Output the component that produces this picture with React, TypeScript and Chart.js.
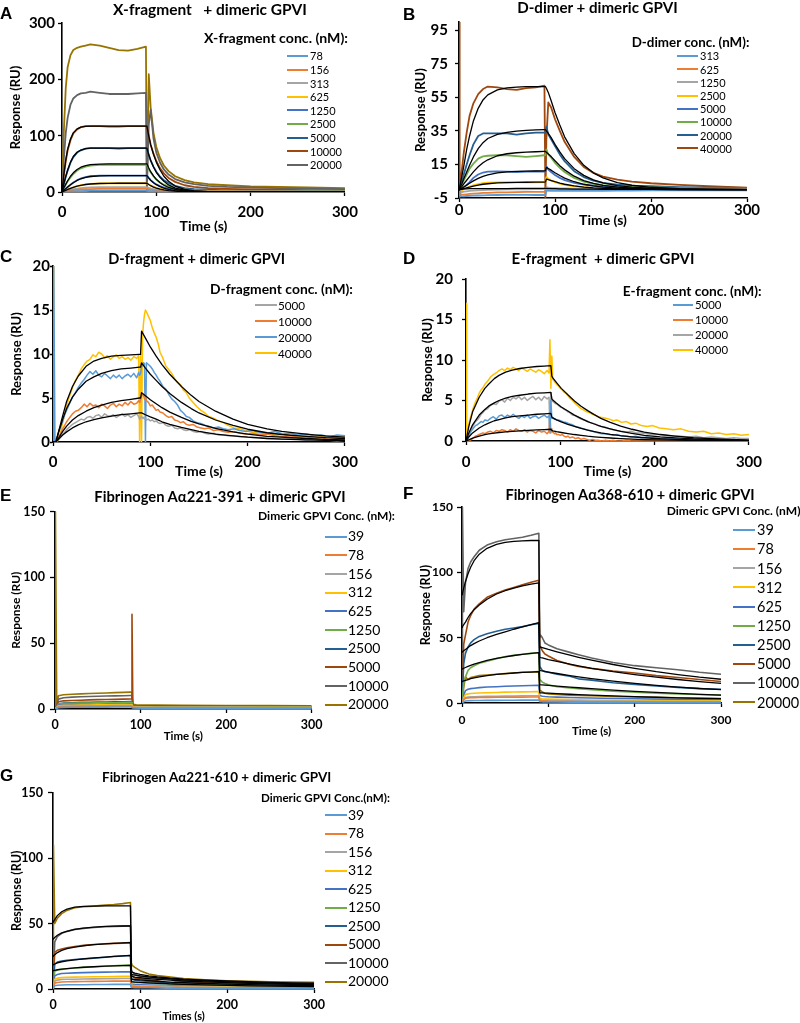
import React, { useEffect, useRef } from 'react';
import { Chart, registerables } from 'chart.js';

Chart.register(...registerables);

const FONT = 'Lato';
const LETTER_FONT = '"Liberation Sans", Arial, sans-serif';

// Excel palette
const LBLUE = '#5B9BD5';
const ORANGE = '#ED7D31';
const GRAY = '#A5A5A5';
const GOLD = '#FFC000';
const BLUE = '#4472C4';
const GREEN = '#70AD47';
const DBLUE = '#255E91';
const BROWN = '#9E480E';
const DGRAY = '#636363';
const OLIVE = '#997300';
const FITC = '#000000';

const xTicks = [0, 100, 200, 300];
const yTicksA = [0, 100, 200, 300];
const yTicksB = [-5, 15, 35, 55, 75, 95];
const yTicksCD = [0, 5, 10, 15, 20];
const yTicksEFG = [0, 50, 100, 150];

// ---------------- Panel A : X-fragment ----------------
const timeA = [0, 2, 4, 6, 9, 12, 16, 20, 25, 30, 40, 50, 60, 70, 80, 89, 90, 92, 94, 97, 100, 104, 108, 113, 120, 130, 140, 155, 175, 200, 230, 260, 300];
const a40000 = [0, 110, 185, 222, 243, 252, 256, 258, 260, 262, 260, 256, 252, 251, 254, 258, 2, 209, 150, 105, 80, 60, 47, 37, 28, 21, 17, 14, 12, 10, 9, 8, 7];
const a20000 = [0, 60, 105, 132, 155, 166, 172, 175, 176, 178, 176, 174, 174, 174, 175, 176, 3, 120, 146, 95, 70, 52, 40, 31, 23, 17, 14, 11, 9, 8, 7, 6, 5];
const a10000 = [0, 30, 55, 74, 92, 104, 111, 115, 117, 117, 117, 116, 116, 117, 117, 117, 117, 100, 84, 68, 55, 42, 33, 25, 18, 12, 9, 7, 5.5, 4.5, 4, 3.5, 3];
const a5000 = [0, 14, 27, 38, 52, 62, 70, 74, 77, 78, 78, 78, 77, 78, 78, 78, 78, 66, 56, 45, 36, 27, 21, 16, 11, 7, 5, 4, 3, 2.5, 2, 2, 1.5];
const a2500 = [0, 7, 13, 19, 26, 32, 38, 42, 45, 47, 48, 48.5, 48, 48, 48, 48, 48, 41, 35, 28, 22, 17, 13, 10, 7, 4.5, 3.5, 2.5, 2, 1.5, 1.2, 1, 1];
const a1250 = [0, 3, 6, 9, 13, 17, 21, 24, 26.5, 28, 29, 29, 29, 29, 29, 29, 29, 25, 21, 17, 13.5, 10.5, 8, 6, 4.2, 3, 2.2, 1.7, 1.3, 1, 0.8, 0.7, 0.6];
const a625 = [0, 1.5, 3, 4.5, 6.5, 8.5, 10.5, 12, 13.5, 14.5, 15.3, 15.5, 15.5, 15.5, 15.5, 15.5, 15.5, 13.5, 11.5, 9.5, 7.5, 6, 4.8, 3.8, 2.8, 2, 1.6, 1.2, 1, 0.8, 0.7, 0.6, 0.5];
const a313 = [0, 1, 2, 3, 4, 5, 6, 7, 7.7, 8.1, 8.4, 8.5, 8.5, 8.5, 8.5, 8.5, 8.5, 7.5, 6.5, 5.3, 4.3, 3.5, 2.8, 2.2, 1.7, 1.3, 1, 0.8, 0.7, 0.6, 0.5, 0.5, 0.4];
const a156 = [0, 0.7, 1.3, 1.9, 2.6, 3.2, 3.9, 4.4, 4.9, 5.2, 5.4, 5.5, 5.5, 5.5, 5.5, 5.5, 5.5, 4.8, 4.2, 3.5, 2.9, 2.3, 1.9, 1.5, 1.2, 0.9, 0.7, 0.6, 0.5, 0.4, 0.4, 0.3, 0.3];
const a78 = [0, 0.3, 0.5, 0.7, 1, 1.2, 1.4, 1.6, 1.8, 1.9, 2, 2, 2, 2, 2, 2, 2, 1.8, 1.6, 1.3, 1.1, 0.9, 0.7, 0.6, 0.5, 0.4, 0.3, 0.3, 0.2, 0.2, 0.2, 0.1, 0.1];
const fitA10000 = [0, 32, 57, 76, 94, 105, 112, 115, 116.5, 117, 117, 117, 117, 117, 117, 117, 117, 99, 84, 67, 53, 39, 28, 19, 10.5, 4.7, 2.3, 0.8, 0.2, 0, 0, 0, 0];
const fitA5000 = [0, 15, 28, 39, 53, 63, 70.5, 74.5, 77, 78, 78, 78, 78, 78, 78, 78, 78, 66, 56, 44.5, 35, 26, 19, 12.5, 7, 3.1, 1.6, 0.5, 0.2, 0, 0, 0, 0];
const fitA2500 = [0, 7.5, 14, 20, 28, 34, 40, 44, 47, 48.5, 49.5, 50, 50, 50, 50, 50, 50, 42.5, 36, 28.5, 22.5, 16.5, 12, 8, 4.5, 2, 1, 0.35, 0.1, 0, 0, 0, 0];
const fitA1250 = [0, 3, 6, 9, 13, 16.5, 20.5, 23.5, 26, 27.5, 28.6, 29, 29, 29, 29, 29, 29, 24.7, 20.9, 16.5, 13, 9.6, 7, 4.6, 2.6, 1.2, 0.6, 0.2, 0.1, 0, 0, 0, 0];
const fitA625 = [0, 1.5, 3, 4.5, 6.5, 8.3, 10.3, 11.9, 13.3, 14.2, 15.1, 15.4, 15.5, 15.5, 15.5, 15.5, 15.5, 13.2, 11.2, 8.8, 7, 5.1, 3.7, 2.5, 1.4, 0.6, 0.3, 0.1, 0, 0, 0, 0, 0];

// ---------------- Panel B : D-dimer ----------------
const timeB = [0, 0.3, 1, 3, 5, 8, 11, 15, 20, 25, 30, 40, 50, 60, 70, 80, 89, 90, 91, 93, 96, 100, 105, 110, 120, 130, 140, 150, 165, 180, 200, 230, 260, 300];
const b40000 = [-5, 100, 1, 12, 22, 34, 44, 51.5, 57, 60, 61.5, 61, 60, 59.5, 60.5, 61, 62, -5, 30, 52, 49, 42, 35, 28.5, 19.5, 13.5, 10, 7.8, 6, 4.8, 3.8, 2.8, 2, 1.2];
const b20000 = [0, 0, 0.5, 5, 9, 15, 20.5, 27, 32, 33.5, 33.5, 33.5, 33.5, 32.8, 33.5, 34, 34, 34, 37.5, 33, 30, 26, 21, 17, 11, 7.5, 5.3, 4, 3, 2.4, 2, 1.5, 1.2, 1];
const b10000 = [0, 0, 0.3, 3, 5.5, 9, 12.5, 15.5, 18.5, 19.8, 20.2, 20.5, 20.5, 20, 19.5, 20, 20.5, 20.5, 24, 21, 19, 16, 13, 10.5, 7, 4.8, 3.5, 2.7, 2, 1.6, 1.3, 1, 0.8, 0.6];
const b5000 = [0, 0, 0, 0.5, 1.5, 2.8, 4.5, 7, 9, 10.2, 10.7, 10.8, 10.7, 10.5, 10.7, 10.8, 10.7, 10.7, 14, 12, 10.5, 8.7, 7, 5.7, 4, 3, 2.3, 1.8, 1.4, 1.1, 0.9, 0.7, 0.5, 0.4];
const b2500 = [0, 0, -0.5, -0.3, 0.2, 1, 1.8, 2.6, 3.3, 3.8, 4.1, 4.3, 4.4, 4.3, 4.3, 4.4, 4.5, 4.5, 7.5, 6.5, 5.5, 4.5, 3.6, 2.9, 2, 1.5, 1.1, 0.9, 0.7, 0.5, 0.4, 0.3, 0.2, 0.2];
const b1250 = [0, 0, -1, -1.5, -1.2, -1, -0.8, -0.6, -0.4, -0.3, -0.2, 0, 0.1, 0.2, 0.2, 0.3, 0.3, 0.3, 1.5, 1.2, 1, 0.9, 0.8, 0.7, 0.6, 0.5, 0.4, 0.3, 0.3, 0.2, 0.2, 0.1, 0.1, 0.1];
const b625 = [0, 0, -2.5, -3, -3, -2.8, -2.6, -2.4, -2.2, -2, -1.9, -1.7, -1.6, -1.5, -1.4, -1.3, -1.3, -1.3, -0.5, -0.4, -0.3, -0.3, -0.2, -0.2, -0.2, -0.1, -0.1, -0.1, 0, 0, 0, 0, 0, 0];
const b313 = [0, 0, -3.5, -4, -4, -3.8, -3.7, -3.6, -3.5, -3.4, -3.3, -3.2, -3.1, -3.1, -3.1, -3.2, -3.2, -3.2, -0.5, -0.6, -0.7, -0.8, -0.8, -0.8, -0.8, -0.8, -0.7, -0.7, -0.6, -0.6, -0.5, -0.5, -0.4, -0.4];
const fitB40000 = [0, 0, 1.5, 8, 14, 24, 32, 41, 48.5, 53.5, 56.5, 59.5, 60.7, 61.2, 61.4, 61.5, 61.5, 61.5, 60.5, 58, 53, 46, 38.5, 31.5, 21.5, 14.5, 10, 7, 4.2, 2.6, 1.4, 0.6, 0.3, 0.1];
const fitB20000 = [0, 0, 0.7, 3.5, 6.5, 10.5, 14.5, 19.5, 24.5, 28, 30.5, 33, 34.2, 34.9, 35.3, 35.6, 35.8, 35.8, 35, 33.5, 31, 27, 22.5, 18.5, 12.5, 8.5, 5.8, 4, 2.4, 1.5, 0.8, 0.35, 0.15, 0.05];
const fitB10000 = [0, 0, 0.3, 1.8, 3.4, 5.6, 7.8, 10.6, 13.6, 16, 17.8, 20.2, 21.4, 22, 22.4, 22.6, 22.8, 22.8, 22.3, 21.3, 19.7, 17.2, 14.3, 11.8, 8, 5.4, 3.7, 2.5, 1.5, 0.95, 0.5, 0.2, 0.1, 0];
const fitB5000 = [0, 0, 0.1, 0.8, 1.6, 2.7, 3.8, 5.2, 6.7, 7.9, 8.8, 10, 10.6, 10.9, 11, 11.1, 11.2, 11.2, 13.3, 12.6, 11.6, 10.1, 8.4, 6.9, 4.7, 3.2, 2.2, 1.5, 0.9, 0.55, 0.3, 0.1, 0.05, 0];
const fitB2500 = [0, 0, 0, 0.3, 0.6, 1.1, 1.5, 2.1, 2.7, 3.2, 3.5, 4, 4.2, 4.35, 4.4, 4.45, 4.5, 4.5, 6.2, 5.9, 5.4, 4.7, 3.9, 3.2, 2.2, 1.5, 1, 0.7, 0.4, 0.25, 0.15, 0.05, 0, 0];
const fitB1250 = [0, 0, 0, 0.2, 0.4, 0.5, 0.55, 0.6, 0.6, 0.6, 0.6, 0.65, 0.65, 0.7, 0.7, 0.7, 0.7, 0.7, 0.7, 0.65, 0.6, 0.55, 0.5, 0.45, 0.35, 0.3, 0.25, 0.2, 0.15, 0.1, 0.1, 0.05, 0, 0];

// ---------------- Panels C and D : noisy sensorgrams ----------------
const timeCD = [
  0, 0.5, 1, 2, 4, 6, 8, 10, 12, 14,
  16, 18, 20, 23, 26, 29, 32, 35, 38, 41,
  44, 47, 50, 53, 56, 59, 62, 65, 68, 71,
  74, 77, 80, 83, 86, 88, 89, 90, 91, 92,
  93, 94, 95, 96, 98, 100, 102, 104, 106, 108,
  110, 113, 116, 119, 122, 125, 128, 131, 134, 137,
  140, 144, 148, 152, 156, 160, 165, 170, 175, 180,
  186, 192, 198, 205, 212, 220, 228, 236, 244, 252,
  260, 268, 276, 284, 292, 300,
];
const c40000 = [
  0, 20, 0, 0, 0, 0.3, 1.2, 2.2, 3.2, 4.1,
  4.9, 5.5, 6.2, 7, 7.6, 8.3, 8.8, 9.2, 9.4, 9.9,
  9.7, 10.2, 10, 9.6, 9.8, 9.4, 9.7, 9.9, 9.5, 9.7,
  9.4, 9.6, 9.3, 9.7, 9.5, 9.8, 0, 10, 0, 12,
  13.5, 14.5, 15, 14.8, 14.3, 13.8, 13, 12.4, 11.9, 11.2,
  10.2, 9.5, 8.6, 8.2, 7.8, 7.2, 6.8, 6.5, 5.9, 5.6,
  5, 4.5, 4, 3.6, 3.3, 2.9, 2.7, 2.4, 2.2, 1.9,
  1.6, 1.5, 1.3, 1.1, 1.0, 0.9, 0.8, 0.9, 0.7, 0.6,
  0.7, 0.5, 0.6, 0.5, 0.6, 0.5,
];
const c20000 = [
  0, 0, 20, 0, 0.5, 1.2, 1.8, 2.4, 3.1, 3.6,
  4.1, 4.6, 5.1, 5.6, 6.2, 6.7, 7.1, 7.6, 8, 7.7,
  8.1, 7.6, 7.4, 7.8, 7.5, 7.2, 7.6, 7.3, 7.6, 7.2,
  7.5, 7.7, 7.4, 7.8, 7.3, 7.9, 7.6, 7.8, 8.6, 8.7,
  9, 8.9, 0, 9, 8.8, 8.6, 8.3, 7.9, 7.6, 7.2,
  6.9, 6.3, 6, 5.4, 4.9, 4.6, 4.2, 3.6, 3.3, 2.9,
  2.8, 2.4, 2.2, 2.1, 1.9, 1.8, 1.6, 1.7, 1.5, 1.4,
  1.5, 1.3, 1.2, 1.3, 1.1, 1.0, 1.2, 0.9, 1.0, 0.8,
  0.9, 0.7, 0.8, 0.6, 0.8, 0.7,
];
const c10000 = [
  0, 0, 0, 0, 0.2, 0.6, 1, 1.5, 1.9, 2.3,
  2.6, 2.9, 3.2, 3.5, 3.6, 3.9, 4.3, 4, 4.4, 4.1,
  4.2, 3.9, 4.3, 4.1, 3.8, 4.2, 4.4, 4.0, 4.3, 4.1,
  4.5, 4.2, 4.6, 4.3, 4.4, 4.7, 4.5, 4.8, 5.2, 5.5,
  5.3, 4.9, 5.1, 4.7, 4.5, 4.1, 4.2, 3.9, 3.6, 3.7,
  3.4, 3.3, 3.0, 2.8, 2.9, 2.5, 2.4, 2.2, 2.3, 2.0,
  1.9, 2.0, 1.7, 1.6, 1.5, 1.6, 1.3, 1.4, 1.2, 1.1,
  1.2, 1.0, 0.9, 1.0, 0.8, 0.9, 0.7, 0.6, 0.7, 0.5,
  0.6, 0.4, 0.5, 0.3, 0.4, 0.3,
];
const c5000 = [
  0, 0, 0, 0, 0.1, 0.3, 0.6, 0.9, 1.1, 1.4,
  1.6, 1.8, 2.0, 2.2, 2.4, 2.6, 2.5, 2.8, 2.9, 2.7,
  3.0, 3.1, 2.8, 3.2, 3.0, 2.9, 3.1, 2.8, 3.0, 3.2,
  2.9, 3.1, 2.8, 3.0, 3.2, 2.9, 2.6, 2.8, 2.9, 2.7,
  2.8, 2.6, 2.7, 2.5, 2.6, 2.4, 2.5, 2.3, 2.4, 2.2,
  2.1, 2.2, 1.9, 1.8, 1.9, 1.6, 1.5, 1.6, 1.4, 1.3,
  1.4, 1.2, 1.1, 1.2, 1.0, 0.9, 1.0, 0.8, 0.8, 0.7,
  0.7, 0.6, 0.6, 0.5, 0.5, 0.4, 0.4, 0.3, 0.4, 0.3,
  0.2, 0.3, 0.2, 0.2, 0.1, 0.2,
];
const timeFitC = [0, 3, 6, 10, 14, 20, 26, 34, 42, 50, 60, 70, 80, 89, 90, 91, 95, 100, 106, 112, 120, 132, 142, 150, 167, 185, 200, 220, 235, 260, 280, 300];
const fitC40000 = [0, 0, 1.3, 3.0, 4.6, 6.3, 7.5, 8.6, 9.2, 9.5, 9.75, 9.85, 9.9, 9.95, 9.95, 12.6, 11.8, 10.8, 9.75, 8.8, 7.7, 6.3, 5.3, 4.6, 3.5, 2.6, 2.0, 1.5, 1.2, 0.9, 0.7, 0.55];
const fitC20000 = [0, 0, 1.2, 2.6, 3.8, 5.1, 6.0, 6.9, 7.4, 7.8, 8.1, 8.3, 8.4, 8.5, 8.5, 9.0, 8.4, 7.7, 7.0, 6.3, 5.5, 4.5, 3.8, 3.3, 2.5, 1.9, 1.45, 1.05, 0.85, 0.65, 0.5, 0.4];
const fitC10000 = [0, 0, 0.5, 1.2, 1.8, 2.5, 3.0, 3.5, 3.9, 4.2, 4.5, 4.7, 4.85, 5.0, 5.0, 5.6, 5.25, 4.8, 4.35, 3.9, 3.4, 2.8, 2.35, 2.05, 1.55, 1.15, 0.9, 0.65, 0.55, 0.4, 0.3, 0.25];
const fitC5000 = [0, 0, 0.35, 0.8, 1.15, 1.6, 1.95, 2.3, 2.55, 2.75, 2.95, 3.1, 3.2, 3.3, 3.3, 3.3, 3.1, 2.85, 2.6, 2.3, 2.0, 1.65, 1.4, 1.2, 0.9, 0.7, 0.55, 0.4, 0.32, 0.24, 0.18, 0.14];

const d40000 = [
  0, 17, 1, 1.5, 2.6, 3.4, 4.2, 4.8, 5.3, 5.9,
  6.3, 6.6, 7.0, 7.4, 7.9, 8.2, 8.4, 8.7, 8.9, 8.7,
  9.0, 8.8, 9.1, 8.9, 8.7, 9.0, 8.8, 8.6, 8.9, 8.7,
  8.5, 8.8, 8.6, 8.3, 8.7, 8.4, 12.5, 6.5, 10.5, 7.6,
  7.5, 7.3, 7.2, 7.0, 6.8, 6.5, 6.3, 6.0, 5.9, 5.6,
  5.3, 5.0, 4.6, 4.3, 4.0, 3.8, 3.6, 3.5, 3.3, 3.2,
  3.0, 2.9, 2.8, 2.7, 2.5, 2.6, 2.3, 2.4, 2.1, 2.2,
  1.9, 1.8, 1.9, 1.6, 1.5, 1.4, 1.5, 1.2, 1.1, 1.2,
  0.9, 1.0, 0.8, 0.9, 0.7, 0.8,
];
const d20000 = [
  0, 0, 0, 0.3, 0.9, 1.5, 2.0, 2.4, 2.6, 2.9,
  3.3, 3.5, 3.8, 4.0, 4.4, 4.6, 4.5, 4.9, 5.1, 4.8,
  5.3, 5.0, 5.4, 5.2, 5.5, 5.1, 5.4, 5.0, 5.3, 5.5,
  5.1, 5.4, 5.0, 5.5, 5.2, 5.4, 1.5, 6.0, 5.0, 4.9,
  4.8, 4.7, 4.6, 4.6, 4.4, 4.2, 4.1, 3.9, 3.8, 3.6,
  3.5, 3.2, 3.1, 2.9, 2.7, 2.6, 2.5, 2.3, 2.2, 2.1,
  1.9, 1.8, 1.7, 1.5, 1.4, 1.3, 1.2, 1.1, 1.2, 1.0,
  1.0, 0.9, 0.8, 0.8, 0.7, 0.6, 0.6, 0.5, 0.6, 0.4,
  0.5, 0.4, 0.3, 0.4, 0.3, 0.3,
];
const d5000 = [
  0, 0, 0, 0.4, 0.9, 1.3, 1.6, 1.9, 2.0, 2.2,
  2.4, 2.3, 2.6, 2.5, 2.8, 3.0, 2.7, 3.1, 3.2, 2.9,
  3.2, 3.0, 3.3, 3.0, 2.8, 3.1, 2.9, 3.2, 2.8, 3.0,
  3.1, 2.8, 3.0, 3.2, 2.9, 3.1, 1.0, 5.0, 2.8, 2.9,
  2.8, 2.7, 2.7, 2.6, 2.6, 2.5, 2.4, 2.3, 2.3, 2.2,
  2.1, 2.0, 1.8, 1.7, 1.6, 1.5, 1.4, 1.3, 1.2, 1.1,
  1.0, 0.9, 0.9, 0.8, 0.7, 0.8, 0.6, 0.6, 0.5, 0.6,
  0.4, 0.5, 0.4, 0.3, 0.4, 0.3, 0.2, 0.3, 0.2, 0.2,
  0.1, 0.2, 0.1, 0.2, 0.1, 0.1,
];
const d10000 = [
  0, 0, 0, 0, 0.1, 0.2, 0.4, 0.6, 0.7, 0.8,
  0.9, 1.0, 0.9, 1.1, 1.2, 1.0, 1.3, 1.2, 1.4, 1.3,
  1.1, 1.4, 1.2, 1.5, 1.3, 1.2, 1.4, 1.1, 1.3, 1.2,
  1.0, 1.3, 1.1, 1.2, 0.9, 1.2, 3.5, 1.0, 1.5, 1.1,
  1.0, 0.9, 1.0, 0.8, 0.8, 0.7, 0.8, 0.6, 0.5, 0.6,
  0.4, 0.5, 0.3, 0.4, 0.2, 0.3, 0.2, 0.1, 0.2, 0.1,
  0.1, 0, 0.1, 0, 0.1, 0, 0, 0.1, 0, 0,
  0, 0, 0, 0, 0, 0, 0, 0, 0, 0,
  0, 0, 0, 0, 0, 0,
];
const timeFitD = [0, 3, 7, 14, 20, 24, 30, 35, 42, 49, 57, 66, 75, 83, 90, 91, 92, 96, 101, 108, 115, 122, 129, 136, 143, 153, 164, 176, 189, 206, 222, 241, 260, 280, 300];
const fitD40000 = [0, 1.8, 3.6, 5.4, 6.5, 7.0, 7.7, 8.1, 8.5, 8.75, 8.95, 9.1, 9.2, 9.25, 9.3, 8.0, 7.8, 7.2, 6.5, 5.7, 4.95, 4.3, 3.75, 3.25, 2.8, 2.3, 1.85, 1.45, 1.1, 0.8, 0.6, 0.4, 0.3, 0.2, 0.12];
const fitD20000 = [0, 1.0, 2.0, 3.2, 3.9, 4.3, 4.7, 5.0, 5.3, 5.5, 5.65, 5.8, 5.9, 5.95, 6.0, 5.2, 5.05, 4.65, 4.2, 3.7, 3.2, 2.8, 2.4, 2.1, 1.8, 1.5, 1.2, 0.95, 0.7, 0.5, 0.38, 0.26, 0.19, 0.13, 0.08];
const fitD5000 = [0, 0.5, 1.0, 1.6, 2.0, 2.2, 2.5, 2.65, 2.85, 3.0, 3.1, 3.2, 3.3, 3.35, 3.4, 2.95, 2.85, 2.6, 2.35, 2.05, 1.8, 1.55, 1.35, 1.17, 1.0, 0.82, 0.66, 0.52, 0.4, 0.28, 0.21, 0.15, 0.1, 0.07, 0.05];
const fitD10000 = [0, 0.15, 0.35, 0.6, 0.78, 0.87, 0.98, 1.05, 1.13, 1.2, 1.26, 1.32, 1.37, 1.41, 1.45, 1.3, 1.25, 1.15, 1.05, 0.92, 0.8, 0.7, 0.6, 0.52, 0.45, 0.37, 0.3, 0.23, 0.18, 0.13, 0.1, 0.07, 0.05, 0.03, 0.02];

// ---------------- Panel E : Fibrinogen Aα221-391 ----------------
const timeE = [0, 0.5, 2, 4, 10, 20, 30, 40, 50, 60, 70, 80, 88, 89, 90, 91, 95, 100, 120, 150, 200, 250, 300];
const e20000 = [0, 150, 4, 10, 10.8, 11.2, 11.5, 11.8, 12, 12.2, 12.4, 12.6, 12.8, 12.8, 12.5, 3.5, 3.2, 3, 3, 2.8, 2.7, 2.6, 2.5];
const e10000 = [0, 0, 3, 7.5, 8.5, 9, 9.3, 9.5, 9.7, 9.9, 10, 10.1, 10.2, 10.2, 10, 2.8, 2.6, 2.5, 2.4, 2.3, 2.2, 2.1, 2];
const e5000 = [0, 0, 2.5, 5.5, 6.2, 6.5, 6.7, 6.9, 7.1, 7.2, 7.3, 7.5, 7.6, 7.6, 72, 2.5, 2.3, 2.2, 2.1, 2, 1.9, 1.8, 1.8];
const e2500 = [0, 0, 2, 4, 4.6, 4.8, 5, 5.1, 5.2, 5.3, 5.4, 5.5, 5.6, 5.6, 5.5, 2, 1.9, 1.8, 1.8, 1.7, 1.6, 1.6, 1.5];
const e1250 = [0, 0, 1.8, 3.8, 4.2, 4.4, 4.5, 4.6, 4.7, 4.8, 4.8, 4.9, 5, 5, 4.9, 1.9, 1.8, 1.7, 1.7, 1.6, 1.6, 1.5, 1.5];
const e625 = [0, 0, 1.4, 3, 3.3, 3.4, 3.5, 3.6, 3.6, 3.7, 3.8, 3.8, 3.9, 3.9, 3.8, 1.7, 1.6, 1.5, 1.5, 1.4, 1.4, 1.3, 1.3];
const e312 = [0, 0, 1.2, 2.5, 2.8, 2.9, 3, 3, 3.1, 3.1, 3.2, 3.2, 3.3, 3.3, 3.2, 1.5, 1.4, 1.4, 1.3, 1.3, 1.2, 1.2, 1.2];
const e156 = [0, 0, 1, 2, 2.2, 2.3, 2.4, 2.4, 2.5, 2.5, 2.6, 2.6, 2.6, 2.6, 2.5, 1.3, 1.2, 1.2, 1.1, 1.1, 1.1, 1, 1];
const e78 = [0, 0, 0.8, 1.5, 1.7, 1.8, 1.8, 1.9, 1.9, 2, 2, 2, 2.1, 2.1, 2, 1.1, 1, 1, 1, 0.9, 0.9, 0.9, 0.8];
const e39 = [0, 0, 0.5, 1, 1.2, 1.3, 1.3, 1.4, 1.4, 1.4, 1.5, 1.5, 1.5, 1.5, 1.5, 0.8, 0.8, 0.7, 0.7, 0.7, 0.6, 0.6, 0.6];

// ---------------- Panel F : Fibrinogen Aα368-610 ----------------
const timeF = [0, 0.5, 2, 4, 7, 10, 14, 20, 29, 40, 50, 60, 70, 80, 89, 90, 91, 93, 96, 100, 110, 125, 135, 150, 175, 200, 225, 250, 275, 300];
const f10000 = [0, 150, 70, 92, 103, 108, 112, 117, 121, 123.5, 125, 126, 127, 128.5, 130, 50, 52, 50, 46, 44.5, 41.5, 38.8, 37, 34.5, 31, 28.6, 27, 25.5, 23.5, 22];
const f5000 = [0, 0, 45, 52, 62, 67, 72, 76, 81, 84, 86.5, 88.5, 90.5, 92.5, 94, 42, 43, 40, 37.5, 36, 32.5, 29.5, 28, 26.5, 24.5, 23, 21, 19.5, 18, 16.5];
const f2500 = [0, 0, 30, 38, 43, 46, 48.5, 51, 53, 55, 56.5, 57.5, 58.5, 60, 61, 28, 27, 25, 24, 23.5, 22, 20.5, 18.5, 17.5, 15.5, 14.3, 13, 12, 11, 10.5];
const f1250 = [0, 0, 15, 20, 25, 27, 28.5, 30.5, 32, 34, 35.5, 36.5, 37.3, 38, 38.5, 17, 17.5, 16, 15, 14, 12.5, 11.5, 11, 10.2, 9, 8.2, 7.5, 7, 6.5, 6];
const f20000 = [0, 0, 12, 20, 18, 19.5, 20, 21, 21.5, 22, 22.5, 23, 23.5, 23.8, 24, 10, 9.5, 8.5, 7.5, 7, 6.5, 6, 5.8, 5.5, 5, 4.6, 4.3, 4, 3.7, 3.5];
const f625 = [0, 0, 6, 9.5, 10.5, 11, 11.3, 11.8, 12.2, 12.5, 12.8, 13, 13.2, 13.4, 13.5, 5.5, 5.5, 5.2, 5, 4.8, 4.5, 4.2, 4, 3.8, 3.5, 3.2, 3, 2.8, 2.6, 2.5];
const f312 = [0, 0, 4, 6.5, 7, 7.3, 7.5, 7.7, 7.9, 8.1, 8.3, 8.4, 8.5, 8.6, 8.7, 3.5, 3.5, 3.3, 3.1, 3, 2.8, 2.6, 2.4, 2.3, 2.1, 1.9, 1.8, 1.7, 1.6, 1.5];
const f156 = [0, 0, 3, 4.2, 4.5, 4.7, 4.8, 5, 5.1, 5.2, 5.3, 5.4, 5.5, 5.5, 5.6, 2.2, 2.2, 2.1, 2, 1.9, 1.8, 1.7, 1.6, 1.5, 1.4, 1.3, 1.2, 1.1, 1.1, 1];
const f78 = [0, 0, 2.5, 3.6, 3.9, 4, 4.1, 4.2, 4.3, 4.4, 4.4, 4.5, 4.5, 4.6, 4.6, 1.6, 1.6, 1.5, 1.4, 1.3, 1.2, 1.1, 1, 0.9, 0.8, 0.7, 0.7, 0.6, 0.6, 0.5];
const f39 = [0, 0, 1, 1.5, 1.7, 1.8, 1.9, 1.9, 2, 2, 2.1, 2.1, 2.2, 2.2, 2.2, 1, 1, 0.9, 0.9, 0.8, 0.8, 0.7, 0.6, 0.6, 0.5, 0.5, 0.4, 0.4, 0.3, 0.3];
const fitF10000 = [83, 84, 88, 93, 99, 104, 109, 114, 118.5, 121.5, 123, 123.8, 124.2, 124.5, 124.6, 43, 42.8, 42.4, 41.8, 41, 39.2, 36.6, 35, 32.8, 29.5, 26.6, 24, 21.8, 19.8, 18.2];
const fitF5000 = [58, 58.5, 60, 62, 65.5, 68.5, 71.5, 75, 79.5, 83.5, 86, 88, 89.8, 91, 92, 35, 34.8, 34.5, 34, 33.3, 31.8, 29.7, 28.4, 26.6, 24, 21.8, 19.8, 18, 16.4, 15];
const fitF2500 = [39, 39.2, 40, 41, 42.5, 44, 45.5, 47.5, 50, 52.5, 54.5, 56.5, 58.3, 60, 61.5, 25, 24.8, 24.6, 24.2, 23.7, 22.6, 21, 20, 18.7, 16.7, 15, 13.5, 12.2, 11.1, 10.2];
const fitF1250 = [26, 26.1, 26.6, 27.2, 28, 28.8, 29.7, 31, 32.6, 34.2, 35.4, 36.4, 37.3, 38, 38.6, 14, 13.95, 13.85, 13.7, 13.5, 13, 12.2, 11.7, 11, 9.9, 8.9, 8.1, 7.3, 6.6, 6];
const fitF20000 = [16.5, 16.6, 17, 17.4, 18, 18.6, 19.2, 20, 21, 21.9, 22.5, 23, 23.4, 23.7, 24, 7.8, 7.75, 7.7, 7.6, 7.5, 7.2, 6.7, 6.4, 6, 5.4, 4.9, 4.4, 4, 3.6, 3.3];

// ---------------- Panel G : Fibrinogen Aα221-610 ----------------
const timeG = [0, 0.5, 2, 5, 10, 16, 25, 35, 47, 60, 70, 80, 89, 90, 91, 94, 100, 110, 120, 130, 135, 140, 150, 175, 200, 225, 250, 275, 300];
const g20000 = [0, 110, 50, 54, 57.5, 60, 62, 62.8, 63.3, 64, 64.5, 65.2, 66, 20, 18, 16.5, 14, 11.5, 10.2, 9.5, 9.2, 8.8, 8, 7, 6.3, 5.8, 5.5, 5.3, 5.2];
const g10000 = [0, 0, 36, 40, 42.5, 44, 45.5, 46.3, 47, 47.5, 47.8, 48, 48.3, 15, 13, 11, 9.8, 8.8, 8.3, 7.8, 7.6, 7.4, 7, 6.2, 5.6, 5.1, 4.7, 4.4, 4.1];
const g5000 = [0, 0, 28, 29.5, 30.5, 31.5, 32.5, 33.3, 34, 34.5, 34.8, 35, 35.5, 11, 10, 8.5, 7.8, 7, 6.3, 4.5, 3, 5.2, 5.5, 5, 4.5, 4.1, 3.8, 3.5, 3.2];
const g2500 = [0, 0, 19, 20.5, 21.3, 22, 22.5, 23, 23.5, 24.2, 24.8, 25.2, 25.6, 8, 7.5, 6.8, 6.3, 5.8, 5.3, 5, 4.8, 4.7, 4.5, 4, 3.6, 3.3, 3, 2.8, 2.6];
const g1250 = [0, 0, 13.5, 14.5, 15, 15.5, 16, 16.5, 17, 17.4, 17.7, 18, 18.2, 6, 5.8, 5.2, 4.8, 4.4, 4.1, 3.8, 3.7, 3.6, 3.4, 3.1, 2.8, 2.6, 2.4, 2.2, 2.1];
const g625 = [0, 0, 10, 11, 11.8, 12, 12.3, 12.5, 12.7, 12.9, 13, 13.1, 13.2, 4, 3.8, 3.5, 3.3, 3.1, 2.9, 2.7, 2.6, 2.6, 2.5, 2.3, 2.1, 2, 1.9, 1.8, 1.7];
const g312 = [0, 0, 7.5, 8.3, 8.7, 9, 9.1, 9.2, 9.3, 9.4, 9.5, 9.6, 9.7, 3, 2.8, 2.6, 2.4, 2.2, 2.1, 2, 1.9, 1.9, 1.8, 1.7, 1.6, 1.5, 1.4, 1.3, 1.3];
const g156 = [0, 0, 6, 6.8, 7.2, 7.4, 7.5, 7.6, 7.7, 7.8, 7.9, 8, 8, 2.5, 2.4, 2.2, 2, 1.9, 1.8, 1.7, 1.6, 1.6, 1.5, 1.4, 1.3, 1.3, 1.2, 1.2, 1.1];
const g78 = [0, 0, 4.5, 5, 5.3, 5.5, 5.6, 5.7, 5.8, 5.9, 6, 6, 6.1, 2, 1.9, 1.8, 1.6, 1.5, 1.4, 0.5, 0.3, 1.3, 1.2, 1.1, 1, 1, 0.9, 0.9, 0.8];
const g39 = [0, 0, 2.5, 2.9, 3.1, 3.2, 3.3, 3.3, 3.4, 3.4, 3.5, 3.5, 3.5, 1.2, 1.1, 1, 0.9, 0.9, 0.8, 0.8, 0.7, 0.7, 0.7, 0.6, 0.6, 0.5, 0.5, 0.5, 0.4];
const fitG20000 = [51, 51.5, 53, 56, 59, 61, 62.5, 63, 63.3, 63.4, 63.5, 63.5, 63.5, 13, 12.8, 12.2, 11.2, 10, 9.2, 8.6, 8.3, 8.1, 7.6, 6.8, 6.1, 5.6, 5.1, 4.7, 4.4];
const fitG10000 = [38, 38.3, 39.3, 41, 42.8, 44, 45.5, 46.5, 47.3, 47.8, 48, 48.1, 48.2, 11, 10.9, 10.6, 10, 9.2, 8.5, 8, 7.7, 7.5, 7, 6.2, 5.5, 5, 4.5, 4.1, 3.8];
const fitG5000 = [25, 25.3, 26.2, 27.8, 29.5, 30.8, 32, 33, 33.8, 34.5, 34.9, 35.2, 35.4, 9.5, 9.4, 9.1, 8.6, 7.9, 7.3, 6.9, 6.7, 6.5, 6.1, 5.4, 4.8, 4.3, 3.9, 3.6, 3.3];
const fitG2500 = [18.5, 18.6, 19.1, 19.9, 20.8, 21.5, 22.3, 23, 23.7, 24.4, 24.9, 25.3, 25.6, 7.5, 7.45, 7.25, 6.9, 6.4, 5.9, 5.5, 5.3, 5.1, 4.8, 4.2, 3.7, 3.3, 3, 2.7, 2.5];
const fitG1250 = [14, 14.05, 14.3, 14.7, 15.2, 15.6, 16.1, 16.6, 17, 17.4, 17.7, 17.9, 18.1, 5.5, 5.45, 5.3, 5.05, 4.7, 4.4, 4.1, 3.95, 3.8, 3.55, 3.1, 2.75, 2.45, 2.2, 2, 1.8];

// ---------------- series assembly ----------------
type Series = { label: string; color: string; t: number[]; v: number[]; fit?: boolean; noLegend?: boolean };

const seriesA: Series[] = [
  { label: '78', color: LBLUE, t: timeA, v: a78 },
  { label: '156', color: ORANGE, t: timeA, v: a156 },
  { label: '313', color: GRAY, t: timeA, v: a313 },
  { label: '625', color: GOLD, t: timeA, v: a625 },
  { label: '1250', color: BLUE, t: timeA, v: a1250 },
  { label: '2500', color: GREEN, t: timeA, v: a2500 },
  { label: '5000', color: DBLUE, t: timeA, v: a5000 },
  { label: '10000', color: BROWN, t: timeA, v: a10000 },
  { label: '20000', color: DGRAY, t: timeA, v: a20000 },
  { label: '40000', color: OLIVE, t: timeA, v: a40000, noLegend: true },
  { label: 'fit', color: FITC, t: timeA, v: fitA10000, fit: true },
  { label: 'fit', color: FITC, t: timeA, v: fitA5000, fit: true },
  { label: 'fit', color: FITC, t: timeA, v: fitA2500, fit: true },
  { label: 'fit', color: FITC, t: timeA, v: fitA1250, fit: true },
  { label: 'fit', color: FITC, t: timeA, v: fitA625, fit: true },
];
const seriesB: Series[] = [
  { label: '313', color: LBLUE, t: timeB, v: b313 },
  { label: '625', color: ORANGE, t: timeB, v: b625 },
  { label: '1250', color: GRAY, t: timeB, v: b1250 },
  { label: '2500', color: GOLD, t: timeB, v: b2500 },
  { label: '5000', color: BLUE, t: timeB, v: b5000 },
  { label: '10000', color: GREEN, t: timeB, v: b10000 },
  { label: '20000', color: DBLUE, t: timeB, v: b20000 },
  { label: '40000', color: BROWN, t: timeB, v: b40000 },
  { label: 'fit', color: FITC, t: timeB, v: fitB40000, fit: true },
  { label: 'fit', color: FITC, t: timeB, v: fitB20000, fit: true },
  { label: 'fit', color: FITC, t: timeB, v: fitB10000, fit: true },
  { label: 'fit', color: FITC, t: timeB, v: fitB5000, fit: true },
  { label: 'fit', color: FITC, t: timeB, v: fitB2500, fit: true },
  { label: 'fit', color: FITC, t: timeB, v: fitB1250, fit: true },
];
const seriesC: Series[] = [
  { label: '5000', color: GRAY, t: timeCD, v: c5000 },
  { label: '10000', color: ORANGE, t: timeCD, v: c10000 },
  { label: '20000', color: LBLUE, t: timeCD, v: c20000 },
  { label: '40000', color: GOLD, t: timeCD, v: c40000 },
  { label: 'fit', color: FITC, t: timeFitC, v: fitC40000, fit: true },
  { label: 'fit', color: FITC, t: timeFitC, v: fitC20000, fit: true },
  { label: 'fit', color: FITC, t: timeFitC, v: fitC10000, fit: true },
  { label: 'fit', color: FITC, t: timeFitC, v: fitC5000, fit: true },
];
const seriesD: Series[] = [
  { label: '5000', color: LBLUE, t: timeCD, v: d5000 },
  { label: '10000', color: ORANGE, t: timeCD, v: d10000 },
  { label: '20000', color: GRAY, t: timeCD, v: d20000 },
  { label: '40000', color: GOLD, t: timeCD, v: d40000 },
  { label: 'fit', color: FITC, t: timeFitD, v: fitD40000, fit: true },
  { label: 'fit', color: FITC, t: timeFitD, v: fitD20000, fit: true },
  { label: 'fit', color: FITC, t: timeFitD, v: fitD5000, fit: true },
  { label: 'fit', color: FITC, t: timeFitD, v: fitD10000, fit: true },
];
const seriesE: Series[] = [
  { label: '39', color: LBLUE, t: timeE, v: e39 },
  { label: '78', color: ORANGE, t: timeE, v: e78 },
  { label: '156', color: GRAY, t: timeE, v: e156 },
  { label: '312', color: GOLD, t: timeE, v: e312 },
  { label: '625', color: BLUE, t: timeE, v: e625 },
  { label: '1250', color: GREEN, t: timeE, v: e1250 },
  { label: '2500', color: DBLUE, t: timeE, v: e2500 },
  { label: '5000', color: BROWN, t: timeE, v: e5000 },
  { label: '10000', color: DGRAY, t: timeE, v: e10000 },
  { label: '20000', color: OLIVE, t: timeE, v: e20000 },
];
const seriesF: Series[] = [
  { label: '39', color: LBLUE, t: timeF, v: f39 },
  { label: '78', color: ORANGE, t: timeF, v: f78 },
  { label: '156', color: GRAY, t: timeF, v: f156 },
  { label: '312', color: GOLD, t: timeF, v: f312 },
  { label: '625', color: BLUE, t: timeF, v: f625 },
  { label: '1250', color: GREEN, t: timeF, v: f1250 },
  { label: '2500', color: DBLUE, t: timeF, v: f2500 },
  { label: '5000', color: BROWN, t: timeF, v: f5000 },
  { label: '10000', color: DGRAY, t: timeF, v: f10000 },
  { label: '20000', color: OLIVE, t: timeF, v: f20000 },
  { label: 'fit', color: FITC, t: timeF, v: fitF10000, fit: true },
  { label: 'fit', color: FITC, t: timeF, v: fitF5000, fit: true },
  { label: 'fit', color: FITC, t: timeF, v: fitF2500, fit: true },
  { label: 'fit', color: FITC, t: timeF, v: fitF1250, fit: true },
  { label: 'fit', color: FITC, t: timeF, v: fitF20000, fit: true },
];
const seriesG: Series[] = [
  { label: '39', color: LBLUE, t: timeG, v: g39 },
  { label: '78', color: ORANGE, t: timeG, v: g78 },
  { label: '156', color: GRAY, t: timeG, v: g156 },
  { label: '312', color: GOLD, t: timeG, v: g312 },
  { label: '625', color: BLUE, t: timeG, v: g625 },
  { label: '1250', color: GREEN, t: timeG, v: g1250 },
  { label: '2500', color: DBLUE, t: timeG, v: g2500 },
  { label: '5000', color: BROWN, t: timeG, v: g5000 },
  { label: '10000', color: DGRAY, t: timeG, v: g10000 },
  { label: '20000', color: OLIVE, t: timeG, v: g20000 },
  { label: 'fit', color: FITC, t: timeG, v: fitG20000, fit: true },
  { label: 'fit', color: FITC, t: timeG, v: fitG10000, fit: true },
  { label: 'fit', color: FITC, t: timeG, v: fitG5000, fit: true },
  { label: 'fit', color: FITC, t: timeG, v: fitG2500, fit: true },
  { label: 'fit', color: FITC, t: timeG, v: fitG1250, fit: true },
];

// ---------------- layout ----------------
type PanelSpec = {
  key: string; left: number; top: number; w: number; h: number;
  padTop: number; padRight: number; yW: number; xH: number;
  yMin: number; yMax: number; yTicks: number[];
  tickSize: number; yTickLen: number; yTickPad: number; xTickPad: number;
  yTitleSize: number; xTitle: string; xTitleSize: number;
  lineW: number; series: Series[];
};

const panels: PanelSpec[] = [
  { key: 'A', left: 8, top: 11, w: 357, h: 224, padTop: 10, padRight: 18, yW: 54, xH: 43, yMin: 0, yMax: 300, yTicks: yTicksA, tickSize: 15, yTickLen: 4, yTickPad: 3, xTickPad: 7, yTitleSize: 13, xTitle: 'Time (s)', xTitleSize: 14, lineW: 1.8, series: seriesA },
  { key: 'B', left: 413, top: 6, w: 352, h: 223, padTop: 10, padRight: 18, yW: 46, xH: 31, yMin: -5, yMax: 100, yTicks: yTicksB, tickSize: 15, yTickLen: 4, yTickPad: 7, xTickPad: -1, yTitleSize: 13, xTitle: 'Time (s)', xTitleSize: 14, lineW: 1.8, series: seriesB },
  { key: 'C', left: 9, top: 256, w: 356, h: 224, padTop: 10, padRight: 18, yW: 44, xH: 38, yMin: 0, yMax: 20, yTicks: yTicksCD, tickSize: 15, yTickLen: 3, yTickPad: 0, xTickPad: 7, yTitleSize: 13, xTitle: 'Time (s)', xTitleSize: 14, lineW: 1.5, series: seriesC },
  { key: 'D', left: 420, top: 261, w: 350, h: 219, padTop: 10, padRight: 18, yW: 46, xH: 39, yMin: 0, yMax: 20, yTicks: yTicksCD, tickSize: 15, yTickLen: 4, yTickPad: 9, xTickPad: 8, yTitleSize: 13, xTitle: 'Time (s)', xTitleSize: 14, lineW: 1.5, series: seriesD },
  { key: 'E', left: 9, top: 499, w: 318, h: 244, padTop: 10, padRight: 14, yW: 46, xH: 34, yMin: 0, yMax: 150, yTicks: yTicksEFG, tickSize: 12.5, yTickLen: 5, yTickPad: 5, xTickPad: 4.5, yTitleSize: 12, xTitle: 'Time (s)', xTitleSize: 11.5, lineW: 1.6, series: seriesE },
  { key: 'F', left: 418, top: 496, w: 319, h: 242, padTop: 10, padRight: 14, yW: 44, xH: 35, yMin: 0, yMax: 150, yTicks: yTicksEFG, tickSize: 12, yTickLen: 5, yTickPad: 4, xTickPad: 5.5, yTitleSize: 12.5, xTitle: 'Time (s)', xTitleSize: 11.5, lineW: 1.6, series: seriesF },
  { key: 'G', left: 9, top: 780, w: 320, h: 243, padTop: 10, padRight: 14, yW: 44, xH: 34, yMin: 0, yMax: 150, yTicks: yTicksEFG, tickSize: 12.5, yTickLen: 5, yTickPad: 5, xTickPad: 4, yTitleSize: 12.5, xTitle: 'Times (s)', xTitleSize: 11, lineW: 1.6, series: seriesG },
];

type TitleSpec = { text: string; cx: number; cy: number; w: number };
const titles: TitleSpec[] = [
  { text: 'X-fragment   + dimeric GPVI', cx: 210, cy: 9.2, w: 194 },
  { text: 'D-dimer + dimeric GPVI', cx: 597.5, cy: 7.5, w: 161 },
  { text: 'D-fragment + dimeric GPVI', cx: 196.7, cy: 258.3, w: 177 },
  { text: 'E-fragment  + dimeric GPVI', cx: 603, cy: 258.3, w: 183 },
  { text: 'Fibrinogen A\u03b1221-391 + dimeric GPVI', cx: 220, cy: 496.7, w: 252 },
  { text: 'Fibrinogen A\u03b1368-610 + dimeric GPVI', cx: 630, cy: 494.3, w: 250 },
  { text: 'Fibrinogen A\u03b1221-610 + dimeric GPVI', cx: 216.7, cy: 776.7, w: 230 },
];

const letters = [
  { text: 'A', x: 0, cy: 14 },
  { text: 'B', x: 403, cy: 15.5 },
  { text: 'C', x: 0, cy: 257.5 },
  { text: 'D', x: 403, cy: 259 },
  { text: 'E', x: 0, cy: 496.5 },
  { text: 'F', x: 403, cy: 494 },
  { text: 'G', x: 0, cy: 776.5 },
];

type LegendSpec = { title: string; titleX: number; titleCy: number; titleW: number; x1: number; x2: number; tx: number; y0: number; dy: number; size: number; series: Series[] };
const legends: LegendSpec[] = [
  { title: 'X-fragment conc. (nM):', titleX: 204, titleCy: 38.3, titleW: 144, x1: 287, x2: 308, tx: 310, y0: 56, dy: 13.6, size: 11, series: seriesA },
  { title: 'D-dimer conc. (nM):', titleX: 631.7, titleCy: 41.7, titleW: 118, x1: 677, x2: 698, tx: 700, y0: 56, dy: 13.2, size: 11, series: seriesB },
  { title: 'D-fragment conc. (nM):', titleX: 210, titleCy: 289, titleW: 143, x1: 255, x2: 277, tx: 278, y0: 305, dy: 16.1, size: 11.7, series: seriesC },
  { title: 'E-fragment conc. (nM):', titleX: 622.7, titleCy: 291.7, titleW: 139, x1: 673, x2: 693, tx: 695, y0: 305, dy: 15, size: 11.4, series: seriesD },
  { title: 'Dimeric GPVI Conc. (nM):', titleX: 258, titleCy: 516.7, titleW: 137, x1: 325, x2: 347, tx: 348, y0: 536.7, dy: 18.65, size: 14, series: seriesE },
  { title: 'Dimeric GPVI Conc. (nM):', titleX: 666.7, titleCy: 511.7, titleW: 137, x1: 733, x2: 755, tx: 757, y0: 530, dy: 19.14, size: 14.5, series: seriesF },
  { title: 'Dimeric GPVI Conc.(nM):', titleX: 261, titleCy: 797.7, titleW: 129, x1: 325, x2: 347, tx: 348, y0: 815, dy: 18.5, size: 14, series: seriesG },
];

// ---------------- helpers ----------------
let measureCtx: CanvasRenderingContext2D | null = null;
function fitSize(text: string, weight: string, targetW: number, fallback: number) {
  try {
    if (!measureCtx) measureCtx = document.createElement('canvas').getContext('2d');
    if (!measureCtx) return fallback;
    measureCtx.font = `${weight} 100px ${FONT}`;
    const w = measureCtx.measureText(text).width;
    if (!w) return fallback;
    const s = (100 * targetW) / w;
    return Math.max(9, Math.min(22, s));
  } catch (e) {
    return fallback;
  }
}

function makeConfig(p: PanelSpec): any {
  const tickFont = { family: FONT, size: p.tickSize, weight: 'bold' };
  return {
    type: 'line',
    data: {
      datasets: p.series.map((s) => ({
        label: s.label,
        data: s.t.map((x, i) => ({ x, y: s.v[i] })),
        borderColor: s.color,
        backgroundColor: s.color,
        borderWidth: s.fit ? 1.3 : p.lineW,
        pointRadius: 0,
        pointHoverRadius: 0,
        tension: 0,
        fill: false,
        order: s.fit ? 0 : 1,
        borderJoinStyle: 'round',
      })),
    },
    options: {
      animation: false,
      responsive: false,
      maintainAspectRatio: false,
      devicePixelRatio: 1,
      events: [],
      layout: { padding: { top: p.padTop, right: p.padRight, left: 0, bottom: 0 } },
      plugins: { legend: { display: false }, tooltip: { enabled: false }, title: { display: false } },
      scales: {
        x: {
          type: 'linear',
          min: 0,
          max: 300,
          afterBuildTicks: (sc: any) => { sc.ticks = xTicks.map((value) => ({ value })); },
          afterFit: (sc: any) => { sc.height = p.xH; },
          grid: { display: true, drawOnChartArea: false, drawTicks: true, tickLength: 4, color: '#000', tickColor: '#000', tickWidth: 1.3 },
          border: { display: true, color: '#000', width: 1.6 },
          ticks: { font: tickFont, color: '#000', padding: p.xTickPad, maxRotation: 0, minRotation: 0, autoSkip: false },
          title: { display: true, text: p.xTitle, color: '#000', font: { family: FONT, size: p.xTitleSize, weight: 'bold' }, padding: 0 },
        },
        y: {
          type: 'linear',
          min: p.yMin,
          max: p.yMax,
          afterBuildTicks: (sc: any) => { sc.ticks = p.yTicks.map((value) => ({ value })); },
          afterFit: (sc: any) => { sc.width = p.yW; },
          grid: { display: true, drawOnChartArea: false, drawTicks: true, tickLength: p.yTickLen, color: '#000', tickColor: '#000', tickWidth: 1.3 },
          border: { display: true, color: '#000', width: 1.6 },
          ticks: { font: tickFont, color: '#000', padding: p.yTickPad, autoSkip: false },
          title: { display: true, text: 'Response (RU)', color: '#000', font: { family: FONT, size: p.yTitleSize, weight: 'bold' }, padding: 0 },
        },
      },
    },
  };
}

function Panel({ p }: { p: PanelSpec }) {
  const ref = useRef<HTMLCanvasElement>(null);
  useEffect(() => {
    if (!ref.current) return;
    const chart = new Chart(ref.current, makeConfig(p));
    return () => chart.destroy();
  }, [p]);
  return (
    <canvas
      ref={ref}
      width={p.w}
      height={p.h}
      style={{ position: 'absolute', left: p.left, top: p.top, width: p.w, height: p.h }}
    />
  );
}

function Text({ text, x, cy, size, weight, center, family }: { text: string; x: number; cy: number; size: number; weight: number; center?: boolean; family?: string }) {
  const lh = size * 1.2;
  const style: React.CSSProperties = {
    position: 'absolute',
    left: x,
    top: cy - lh / 2,
    fontSize: size,
    lineHeight: `${lh}px`,
    fontWeight: weight,
    fontFamily: family || FONT,
    whiteSpace: 'pre',
    color: '#000',
  };
  if (center) style.transform = 'translateX(-50%)';
  return <div style={style}>{text}</div>;
}

function Legend({ l }: { l: LegendSpec }) {
  const items = l.series.filter((s) => !s.fit && !s.noLegend);
  const tSize = fitSize(l.title, 'bold', l.titleW, 13);
  return (
    <>
      <Text text={l.title} x={l.titleX} cy={l.titleCy} size={tSize} weight={700} />
      {items.map((s, i) => {
        const cy = l.y0 + i * l.dy;
        return (
          <React.Fragment key={s.label + i}>
            <div style={{ position: 'absolute', left: l.x1, top: cy - 1, width: l.x2 - l.x1, height: 2, background: s.color }} />
            <Text text={s.label} x={l.tx} cy={cy} size={l.size} weight={400} />
          </React.Fragment>
        );
      })}
    </>
  );
}

export default function App() {
  return (
    <div style={{ position: 'absolute', left: 0, top: 0, width: 800, height: 1023, overflow: 'hidden', background: '#fff' }}>
      {panels.map((p) => (
        <Panel key={p.key} p={p} />
      ))}
      {titles.map((t, i) => (
        <Text key={'t' + i} text={t.text} x={t.cx} cy={t.cy} size={fitSize(t.text, 'bold', t.w, 15)} weight={700} center />
      ))}
      {letters.map((l) => (
        <Text key={'l' + l.text} text={l.text} x={l.x} cy={l.cy} size={17} weight={700} family={LETTER_FONT} />
      ))}
      {legends.map((l, i) => (
        <Legend key={'lg' + i} l={l} />
      ))}
    </div>
  );
}
